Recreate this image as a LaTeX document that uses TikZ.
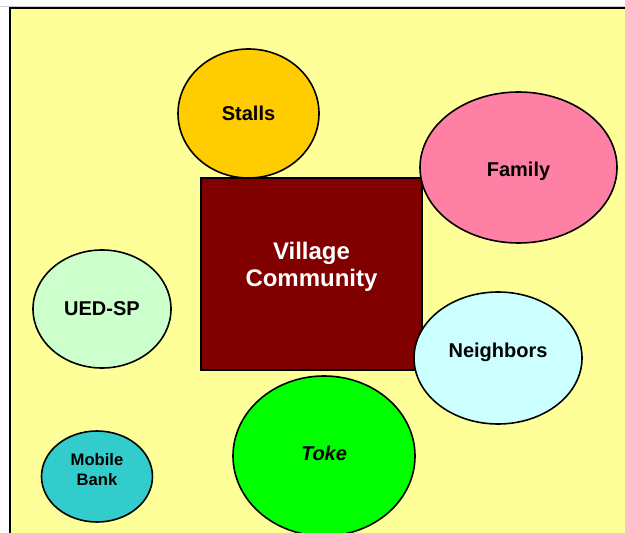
\documentclass[tikz,border=0pt]{standalone}
\usepackage{fontspec}
\setmainfont{Liberation Sans}
\usetikzlibrary{shapes.geometric}
\definecolor{bgyellow}{HTML}{FFFF99}
\definecolor{maroon}{HTML}{800000}
\definecolor{stallsc}{HTML}{FFCC00}
\definecolor{familyc}{HTML}{FF80A5}
\definecolor{uedc}{HTML}{CCFFCC}
\definecolor{neighc}{HTML}{CCFFFF}
\definecolor{tokec}{HTML}{00FF00}
\definecolor{mobilec}{HTML}{33CCCC}
\tikzset{
  blob/.style={ellipse, draw=black, line width=0.8pt, inner sep=0pt},
  lbl/.style={font=\fontsize{10}{12}\selectfont\bfseries, align=center, inner sep=0pt}
}
\begin{document}
\begin{tikzpicture}[x=0.5pt,y=-0.5pt]
        \useasboundingbox (0,0) rectangle (625,533);
        \fill[white] (0,0) rectangle (625,533);
        \fill[bgyellow] (10,8) rectangle (625,533);
        \draw[black!20, line width=0.5pt] (0,7) -- (625,7);
        \draw[line width=0.9pt] (10,533) -- (10,8) -- (625,8);

        \node[draw=black, line width=0.8pt, fill=maroon, minimum width=110.5pt, minimum height=96pt] (village) at (311.5,274) {};
        \node[lbl, text=white, font=\fontsize{12}{13.5}\selectfont\bfseries] (village-text) at ([yshift=3.5pt]village.center) {Village\\Community};

        \node[blob, fill=stallsc, minimum width=70.5pt, minimum height=64.5pt] (stalls) at (248.5,113.5) {};
        \node[lbl] (stalls-text) at (stalls.center) {Stalls};
        \node[blob, fill=familyc, minimum width=98.5pt, minimum height=75.5pt] (family) at (518.5,167.5) {};
        \node[lbl] (family-text) at ([yshift=-2pt]family.center) {Family};
        \node[blob, fill=uedc, minimum width=69pt, minimum height=59pt] (uedsp) at (102,309) {};
        \node[lbl] (uedsp-text) at (uedsp.center) {UED-SP};
        \node[blob, fill=neighc, minimum width=84pt, minimum height=66pt] (neighbors) at (498,358) {};
        \node[lbl] (neighbors-text) at ([yshift=3pt]neighbors.center) {Neighbors};
        \node[blob, fill=tokec, minimum width=91pt, minimum height=80pt] (toke) at (324,456) {};
        \node[lbl] (toke-text) at ([yshift=1.5pt]toke.center) {\itshape Toke};
        \node[blob, fill=mobilec, minimum width=55.5pt, minimum height=45.5pt] (mobile) at (97,476.5) {};
        \node[lbl, font=\fontsize{8.3}{10}\selectfont\bfseries] (mobile-text) at ([yshift=3.5pt]mobile.center) {Mobile\\Bank};
    \end{tikzpicture}
\end{document}
